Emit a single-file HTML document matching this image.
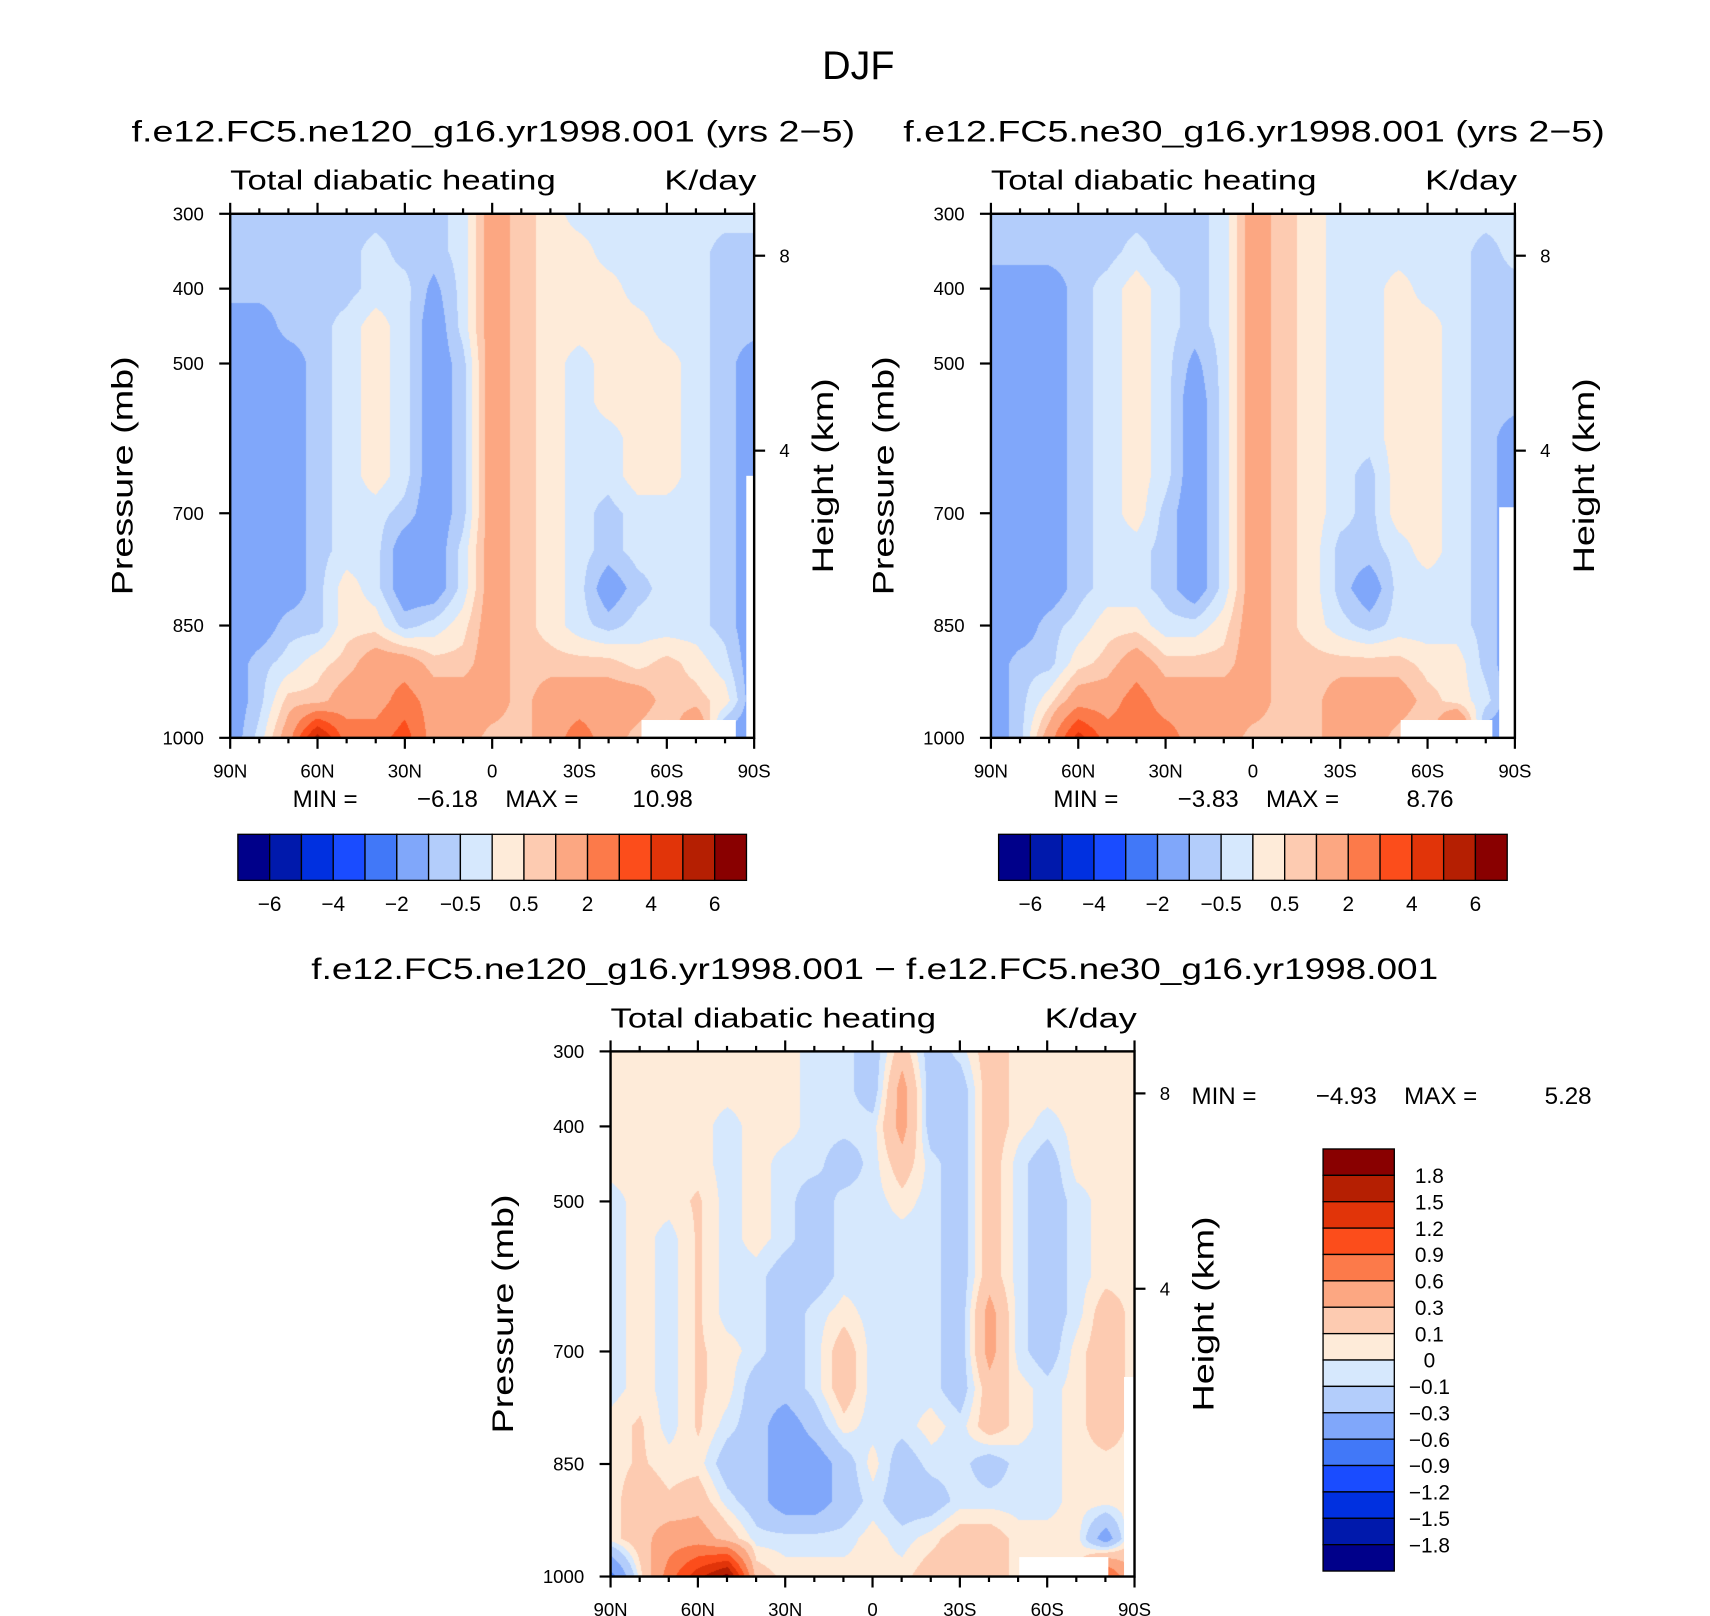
<!DOCTYPE html>
<html><head><meta charset="utf-8">
<style>
html,body{margin:0;padding:0;background:#fff;}
#wrap{position:relative;width:1710px;height:1616px;overflow:hidden;background:#fff;}
canvas{position:absolute;}
svg{position:absolute;left:0;top:0;}
text{font-family:"Liberation Sans",sans-serif;fill:#000;}
</style></head>
<body>
<div id="wrap">
<canvas id="c1"></canvas>
<canvas id="c2"></canvas>
<canvas id="c3"></canvas>
<svg id="ov" width="1710" height="1616" viewBox="0 0 1560 1474" preserveAspectRatio="none"></svg>
</div>
<script>
// ---- data ----
const latLabels = ["90N","60N","30N","0","30S","60S","90S"];
const latitudes = [90,80,70,60,50,40,30,20,10,0,-10,-20,-30,-40,-50,-60,-70,-80,-90];
const pressures = [300,350,400,450,500,550,600,650,700,750,800,850,900,950,1000];
const pressureTicks = [300,400,500,700,850,1000];
const heightTicks = [8,4];
const levelsMain = [-6,-5,-4,-3,-2,-1,-0.5,0,0.5,1,2,3,4,5,6];
const levelsDiff = [-1.8,-1.5,-1.2,-0.9,-0.6,-0.3,-0.1,0,0.1,0.3,0.6,0.9,1.2,1.5,1.8];
const mainLabels = ["−6","−4","−2","−0.5","0.5","2","4","6"];
const diffLabels = ["1.8","1.5","1.2","0.9","0.6","0.3","0.1","0","−0.1","−0.3","−0.6","−0.9","−1.2","−1.5","−1.8"];
const palette = ["#00008a","#0019ac","#0030e0","#1a4cff","#4178f8","#80a7fa","#b3cdfb","#d6e8fd","#feebd9","#fdcbb1","#fca782","#fc7a4a","#fc4d1b","#e13409","#b51f02","#890000"];
const stats1 = ["−6.18","10.98"];
const stats2 = ["−3.83","8.76"];
const stats3 = ["−4.93","5.28"];

const panel1Values = [
[-0.7,-0.7,-0.7,-0.7,-0.7,-0.7,-0.7,-0.7,-0.3,1.5,0.7,0.3,-0.3,-0.3,-0.3,-0.3,-0.3,-0.3,-0.3],
[-0.7,-0.7,-0.7,-0.7,-0.7,-0.3,-0.7,-0.7,-0.3,1.5,0.7,0.3,0.3,-0.3,-0.3,-0.3,-0.3,-0.7,-0.7],
[-0.7,-0.7,-0.7,-0.7,-0.7,-0.3,-0.3,-1.2,-0.3,1.5,0.7,0.3,0.3,0.3,-0.3,-0.3,-0.3,-0.7,-0.7],
[-1.5,-1.5,-0.7,-0.7,-0.3,0.3,-0.3,-1.5,-0.3,1.5,0.7,0.3,0.3,0.3,0.3,-0.3,-0.3,-0.7,-0.7],
[-1.5,-1.5,-1.5,-0.7,-0.3,0.3,-0.3,-1.5,-0.7,1.5,0.7,0.3,-0.3,0.3,0.3,0.3,-0.3,-0.7,-1.5],
[-1.5,-1.5,-1.5,-0.7,-0.3,0.3,-0.3,-1.5,-0.7,1.5,0.7,0.3,-0.3,0.3,0.3,0.3,-0.3,-0.7,-1.5],
[-1.5,-1.5,-1.5,-0.7,-0.3,0.3,-0.3,-1.5,-0.7,1.5,0.7,0.3,-0.3,-0.3,0.3,0.3,-0.3,-0.7,-1.5],
[-1.5,-1.5,-1.5,-0.7,-0.3,0.3,-0.3,-1.5,-0.7,1.5,0.7,0.3,-0.3,-0.3,0.3,0.3,-0.3,-0.7,-1.5],
[-1.5,-1.5,-1.5,-0.7,-0.3,-0.3,-0.7,-1.5,-0.7,1.5,0.7,0.3,-0.3,-0.7,-0.3,-0.3,-0.3,-0.7,-1.5],
[-1.5,-1.5,-1.5,-0.7,-0.3,-0.3,-1.5,-1.5,-0.3,1.5,0.7,0.3,-0.3,-0.7,-0.3,-0.3,-0.3,-0.7,-1.5],
[-1.5,-1.5,-1.5,-0.7,0.3,-0.3,-1.5,-1.5,-0.3,1.5,0.7,0.3,-0.3,-1.5,-0.7,-0.3,-0.3,-0.7,-1.5],
[-1.5,-1.5,-0.7,-0.7,0.3,0.3,-0.7,-0.3,0.3,1.5,0.7,0.3,-0.3,-0.7,-0.3,-0.3,-0.3,-0.7,-1.5],
[-1.5,-0.7,-0.3,0.3,0.7,1.5,1.5,0.7,0.7,1.5,0.7,0.7,0.7,0.7,0.3,0.7,0.3,-0.3,-1.5],
[-1.5,-0.7,0.7,0.7,1.5,1.5,2.5,1.5,1.5,1.5,0.7,1.5,1.5,1.5,1.5,0.7,0.7,0.3,-1.5],
[-1.5,-0.3,1.5,5.5,2.5,2.5,3.5,1.5,1.5,0.7,0.7,1.5,2.5,1.5,0.7,0.3,2.5,-1.5,-1.5]
];
const panel2Values = [
[-0.7,-0.7,-0.7,-0.7,-0.7,-0.7,-0.7,-0.7,-0.3,1.5,0.7,0.3,-0.3,-0.3,-0.3,-0.3,-0.3,-0.3,-0.3],
[-0.7,-0.7,-0.7,-0.7,-0.7,-0.3,-0.7,-0.7,-0.3,1.5,0.7,0.3,-0.3,-0.3,-0.3,-0.3,-0.3,-0.7,-0.3],
[-1.5,-1.5,-1.5,-0.7,-0.3,0.3,-0.3,-0.7,-0.3,1.5,0.7,0.3,-0.3,-0.3,0.3,-0.3,-0.3,-0.7,-0.7],
[-1.5,-1.5,-1.5,-0.7,-0.3,0.3,-0.3,-0.7,-0.3,1.5,0.7,0.3,-0.3,-0.3,0.3,0.3,-0.3,-0.7,-0.7],
[-1.5,-1.5,-1.5,-0.7,-0.3,0.3,-0.3,-1.2,-0.3,1.5,0.7,0.3,-0.3,-0.3,0.3,0.3,-0.3,-0.7,-0.7],
[-1.5,-1.5,-1.5,-0.7,-0.3,0.3,-0.3,-1.5,-0.3,1.5,0.7,0.3,-0.3,-0.3,0.3,0.3,-0.3,-0.7,-0.7],
[-1.5,-1.5,-1.5,-0.7,-0.3,0.3,-0.3,-1.5,-0.3,1.5,0.7,0.3,-0.3,-0.3,0.3,0.3,-0.3,-0.7,-1.5],
[-1.5,-1.5,-1.5,-0.7,-0.3,0.3,-0.3,-1.5,-0.3,1.5,0.7,0.3,-0.3,-0.7,0.3,0.3,-0.3,-0.7,-1.5],
[-1.5,-1.5,-1.5,-0.7,-0.3,0.3,-0.7,-1.5,-0.3,1.5,0.7,0.3,-0.3,-0.7,0.3,0.3,-0.3,-0.7,-1.5],
[-1.5,-1.5,-1.5,-0.7,-0.3,-0.3,-0.7,-1.5,-0.3,1.5,0.7,0.3,-0.7,-0.7,-0.3,0.3,-0.3,-0.7,-1.5],
[-1.5,-1.5,-1.5,-0.7,-0.3,-0.3,-0.7,-1.5,-0.3,1.5,0.7,0.3,-0.7,-1.5,-0.3,-0.3,-0.3,-0.7,-1.5],
[-1.5,-1.5,-0.7,-0.3,0.3,0.3,-0.3,-0.3,0.3,1.5,0.7,0.3,-0.3,-0.7,-0.3,-0.3,-0.3,-0.7,-1.5],
[-1.5,-0.7,-0.7,0.3,0.7,1.5,0.7,0.7,0.7,1.5,0.7,0.7,0.7,0.7,0.7,0.3,0.3,-0.7,-1.5],
[-1.5,-0.7,0.3,1.5,1.5,2.5,1.5,1.5,1.5,1.5,0.7,0.7,1.5,1.5,1.5,0.7,0.3,-0.3,-1.5],
[-1.5,-0.7,1.5,4.5,2.5,2.5,2.5,1.5,1.5,0.7,0.7,0.7,1.5,1.5,0.7,0.3,3.5,-1.5,-1.5]
];
const diffValues = [
[0.05,0.05,0.05,0.05,0.05,0.05,0.05,-0.05,-0.05,-0.2,0.2,-0.2,-0.05,0.2,0.05,0.05,0.05,0.05,0.05],
[0.05,0.05,0.05,0.05,0.05,0.05,0.05,-0.05,-0.05,-0.2,0.4,-0.2,-0.2,0.2,0.05,0.05,0.05,0.05,0.05],
[0.05,0.05,0.05,0.05,-0.05,0.05,0.05,-0.05,-0.05,-0.05,0.4,-0.2,-0.2,0.2,0.05,-0.05,0.05,0.05,0.05],
[0.05,0.05,0.05,0.05,-0.05,0.05,-0.05,-0.05,-0.2,-0.05,0.2,-0.05,-0.2,0.2,-0.05,-0.2,0.05,0.05,0.05],
[-0.05,0.05,0.05,0.12,-0.05,0.05,-0.05,-0.2,-0.05,-0.05,0.05,-0.05,-0.2,0.2,-0.05,-0.2,-0.05,0.05,0.05],
[-0.05,0.05,-0.05,0.12,-0.05,0.05,-0.05,-0.2,-0.05,-0.05,-0.05,-0.05,-0.2,0.2,-0.05,-0.2,-0.05,0.05,0.05],
[-0.05,0.05,-0.05,0.12,-0.05,-0.05,-0.2,-0.2,-0.05,-0.05,-0.05,-0.05,-0.2,0.2,-0.05,-0.2,-0.05,0.05,0.05],
[-0.05,0.05,-0.05,0.12,-0.05,-0.05,-0.2,-0.05,0.05,-0.05,-0.05,-0.05,-0.2,0.4,-0.05,-0.2,-0.05,0.2,0.05],
[-0.05,0.05,-0.05,0.12,0.05,-0.05,-0.2,-0.05,0.2,-0.05,-0.05,-0.05,-0.2,0.4,-0.05,-0.2,0.05,0.2,0.05],
[-0.05,0.05,-0.05,0.12,0.05,-0.2,-0.2,-0.05,0.2,-0.05,-0.05,-0.05,-0.2,0.2,0.05,-0.05,0.05,0.2,0.05],
[0.05,0.12,-0.05,0.12,-0.05,-0.2,-0.45,-0.2,0.05,-0.05,-0.05,0.05,-0.05,0.2,0.05,-0.05,0.05,0.2,0.05],
[0.05,0.12,0.05,0.05,-0.2,-0.2,-0.45,-0.45,-0.2,0.05,-0.2,-0.05,-0.05,-0.2,-0.05,-0.05,0.05,0.05,0.05],
[0.05,0.2,0.12,0.2,-0.05,-0.2,-0.45,-0.45,-0.2,-0.05,-0.2,-0.2,-0.05,-0.05,-0.05,-0.05,0.05,0.05,0.05],
[0.05,0.2,0.45,0.45,0.2,-0.05,-0.05,-0.05,-0.05,0.05,-0.05,0.05,0.2,0.2,0.05,0.05,0.05,-0.45,0.2],
[-0.7,0.05,0.75,1.4,1.9,0.2,0.05,0.05,0.05,0.05,0.05,0.2,0.2,0.2,0.05,0.05,0.05,1.0,0.2]
];

// ---- layout (viewBox units) ----
const S = 1710/1560;
const P1 = {x:210,y:195,w:478,h:478};
const P2 = {x:904,y:195,w:478,h:478};
const P3 = {x:557,y:959,w:478,h:479};
const NS = "http://www.w3.org/2000/svg";
const ov = document.getElementById('ov');

function xScale(box, lat){ return box.x + (90-lat)/180*box.w; }
function yScale(box, p){ return box.y + (p-300)/700*box.h; }
function hScale(box, km){
  const p = 1013.25*Math.pow(1-km*0.0225577,5.25588);
  return yScale(box,p);
}
function binOf(v, levels){ let k=0; for(const l of levels){ if(v>l) k++; } return k; }
function hexToRgb(h){ return [parseInt(h.substr(1,2),16),parseInt(h.substr(3,2),16),parseInt(h.substr(5,2),16)]; }
const rgb = palette.map(hexToRgb);

function sample(values, lat, p){
  let u = (90-lat)/10; if(u<0)u=0; if(u>latitudes.length-1)u=latitudes.length-1;
  let i0 = Math.min(Math.floor(u), latitudes.length-2), fu = u-i0;
  let j0 = 0;
  while(j0 < pressures.length-2 && p > pressures[j0+1]) j0++;
  let fv = (p-pressures[j0])/(pressures[j0+1]-pressures[j0]); fv=Math.max(0,Math.min(1,fv));
  const a=values[j0][i0], b=values[j0][i0+1], c=values[j0+1][i0], d=values[j0+1][i0+1];
  return (a*(1-fu)+b*fu)*(1-fv)+(c*(1-fu)+d*fu)*fv;
}

function drawField(id, values, levels, box){
  const cv = document.getElementById(id);
  const W = Math.round(box.w*S), H = Math.round(box.h*S);
  cv.width=W; cv.height=H;
  cv.style.left=(box.x*S)+'px'; cv.style.top=(box.y*S)+'px';
  cv.style.width=W+'px'; cv.style.height=H+'px';
  const ctx = cv.getContext('2d');
  const img = ctx.createImageData(W,H);
  for(let py=0;py<H;py++){
    const p = 300 + (py+0.5)/H*700;
    for(let px=0;px<W;px++){
      const lat = 90 - (px+0.5)/W*180;
      const v = sample(values, lat, p);
      const c = rgb[binOf(v, levels)];
      const o=(py*W+px)*4;
      img.data[o]=c[0];img.data[o+1]=c[1];img.data[o+2]=c[2];img.data[o+3]=255;
    }
  }
  ctx.putImageData(img,0,0);
}
drawField('c1', panel1Values, levelsMain, P1);
drawField('c2', panel2Values, levelsMain, P2);
drawField('c3', diffValues, levelsDiff, P3);

function mk(tag, attrs, parent){
  const e=document.createElementNS(NS,tag);
  for(const k in attrs) e.setAttribute(k,attrs[k]);
  (parent||ov).appendChild(e); return e;
}
function txt(str, x, y, size, anchor, parent){
  const t = mk('text',{x:x,y:y,'font-size':size,'text-anchor':anchor||'start'},parent);
  t.textContent=str; return t;
}

let t = txt("DJF",783,72,36,'middle');



function panel(box, name, subtitle, subX, subLen, stats, masks){
  const g = mk('g',{});
  
  
  for(const m of masks){
    const r = mk('rect',{x:box.x+m[0]*box.w,y:box.y+m[1]*box.h,width:m[2]*box.w,height:m[3]*box.h,fill:'#fff'},g);
    
    
  }
  const fr = mk('rect',{x:box.x,y:box.y,width:box.w,height:box.h,fill:'none',stroke:'#000','stroke-width':2.2},g);
  
  
  let st = txt(subtitle, subX, box.y-66, 27, 'middle', g);
  st.setAttribute('textLength', subLen); st.setAttribute('lengthAdjust','spacingAndGlyphs');
  
  
  let lt = txt("Total diabatic heating", box.x, box.y-22, 25, 'start', g);
  lt.setAttribute('textLength', 297); lt.setAttribute('lengthAdjust','spacingAndGlyphs');
  
  
  let ut = txt("K/day", box.x+box.w+2, box.y-22, 25, 'end', g);
  ut.setAttribute('textLength', 84); ut.setAttribute('lengthAdjust','spacingAndGlyphs');
  
  
  for(let lat=90; lat>=-90; lat-=10){
    const x = xScale(box,lat);
    const major = (lat%30===0);
    const L = major?10:5;
    mk('line',{x1:x,y1:box.y,x2:x,y2:box.y-L,stroke:'#000','stroke-width':2},g);
    mk('line',{x1:x,y1:box.y+box.h,x2:x,y2:box.y+box.h+L,stroke:'#000','stroke-width':2},g);
  }
  latLabels.forEach((lb,i)=>{
    const x = box.x + i/(latLabels.length-1)*box.w;
    const e = txt(lb, x, box.y+box.h+36, 17, 'middle', g);
    
    
  });
  for(const p of pressureTicks){
    const y = yScale(box,p);
    mk('line',{x1:box.x,y1:y,x2:box.x-10,y2:y,stroke:'#000','stroke-width':2},g);
    const e = txt(String(p), box.x-24, y+6, 17, 'end', g);
    
    
  }
  for(const km of heightTicks){
    const y = hScale(box,km);
    mk('line',{x1:box.x+box.w,y1:y,x2:box.x+box.w+10,y2:y,stroke:'#000','stroke-width':2},g);
    const e = txt(String(km), box.x+box.w+23, y+6, 17, 'start', g);
    
    
  }
  const cy = box.y+box.h*0.5;
  const ya = mk('text',{x:0,y:0,'font-size':27,'text-anchor':'middle',transform:`translate(${box.x-89},${cy}) rotate(-90)`},g);
  ya.textContent="Pressure (mb)";
  ya.setAttribute('textLength',218); ya.setAttribute('lengthAdjust','spacingAndGlyphs');
  
  
  const ha = mk('text',{x:0,y:0,'font-size':27,'text-anchor':'middle',transform:`translate(${box.x+box.w+72},${cy}) rotate(-90)`},g);
  ha.textContent="Height (km)";
  ha.setAttribute('textLength',178); ha.setAttribute('lengthAdjust','spacingAndGlyphs');
  
  
  return g;
}

panel(P1,'panel-ne120',"f.e12.FC5.ne120_g16.yr1998.001 (yrs 2−5)",450,660,stats1,
  [[0.785,0.966,0.18,0.034],[0.985,0.5,0.015,0.5]]);
panel(P2,'panel-ne30',"f.e12.FC5.ne30_g16.yr1998.001 (yrs 2−5)",1144,640,stats2,
  [[0.782,0.966,0.175,0.034],[0.97,0.56,0.03,0.44]]);
panel(P3,'panel-difference',"f.e12.FC5.ne120_g16.yr1998.001 − f.e12.FC5.ne30_g16.yr1998.001",798,1028,stats3,
  [[0.78,0.963,0.17,0.037],[0.98,0.62,0.02,0.38]]);

function stats(x0, y, vals, name){
  const g = mk('g',{});
  
  
  txt("MIN  =", x0, y, 22, 'start', g);
  txt(vals[0], x0+169, y, 22, 'end', g);
  txt("MAX  =", x0+194, y, 22, 'start', g);
  txt(vals[1], x0+365, y, 22, 'end', g);
}
stats(267,736,stats1,'min-max-ne120');
stats(961,736,stats2,'min-max-ne30');
stats(1087,1007,stats3,'min-max-difference');

function hbar(x0, name){
  const g = mk('g',{});
  
  
  const w = 464/palette.length;
  palette.forEach((c,i)=>{
    const r = mk('rect',{x:x0+i*w,y:761,width:w,height:42,fill:c,stroke:'#000','stroke-width':1.2},g);
    
    
  });
  mainLabels.forEach((lb,i)=>{
    const e = txt(lb, x0+(2*i+1)*w, 831, 19, 'middle', g);
    
    
  });
}
hbar(217,'colorbar-ne120');
hbar(911,'colorbar-ne30');

(function(){
  const g = mk('g',{});
  
  
  const h = 385/palette.length;
  for(let i=0;i<palette.length;i++){
    const c = palette[palette.length-1-i];
    const r = mk('rect',{x:1207,y:1048+i*h,width:65,height:h,fill:c,stroke:'#000','stroke-width':1.2},g);
    
    
  }
  diffLabels.forEach((lb,i)=>{
    const e = txt(lb, 1304, 1048+(i+1)*h+7, 19, 'middle', g);
    
    
  });
})();
</script>
</body></html>
